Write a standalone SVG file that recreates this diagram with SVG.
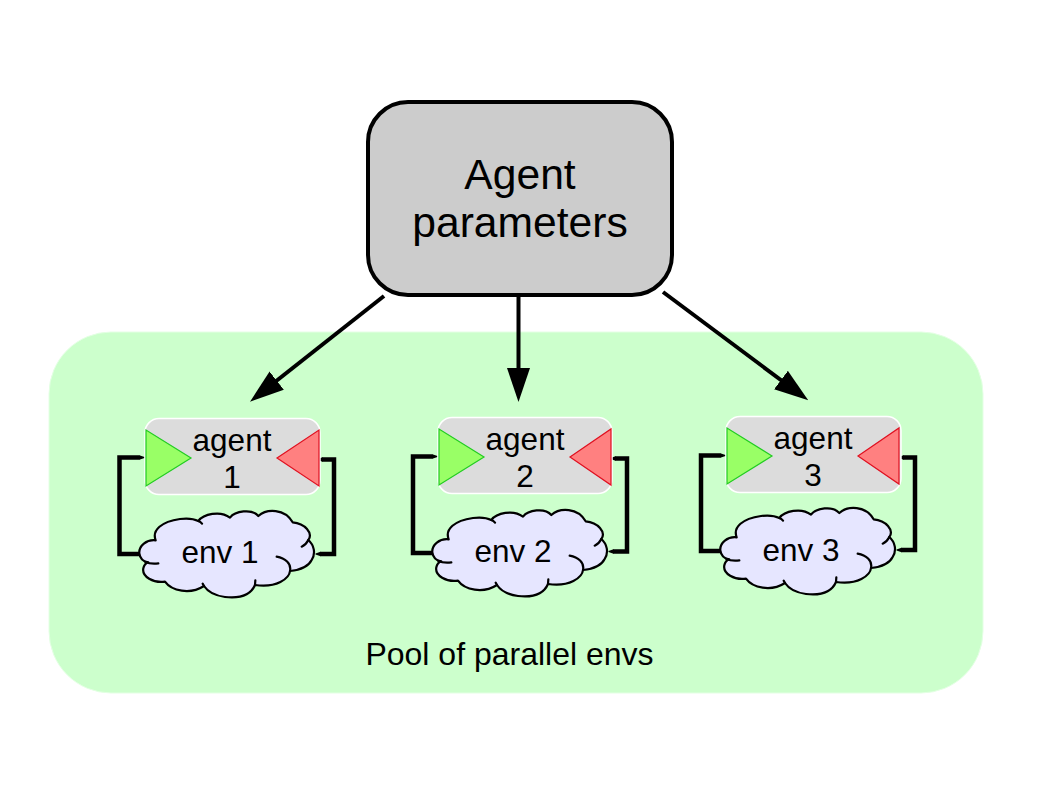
<svg xmlns="http://www.w3.org/2000/svg" width="1058" height="794" viewBox="0 0 1058 794">
<style>
text{font-family:"Liberation Sans",Arial,sans-serif;fill:#000;text-anchor:middle}
.s{font-size:31.5px}
.p{font-size:32px}
.b{font-size:42.6px}
.agent{fill:#dcdcdc;stroke:#fff;stroke-width:1.5}
.go{fill:#99ff66;stroke:#22cc22;stroke-width:1.2}
.stop{fill:#ff8080;stroke:#e01020;stroke-width:1.2}
.cloud{fill:#e6e6ff;stroke:#000;stroke-width:6.6;stroke-linejoin:round}
.tip{fill:none;stroke:#000;stroke-width:6.6;stroke-linecap:round}
.loop{fill:none;stroke:#000;stroke-width:4.500;stroke-linejoin:miter}
.arrow{fill:none;stroke:#000;stroke-width:4}
</style>
<defs>
<marker id="ah" markerUnits="userSpaceOnUse" markerWidth="36" markerHeight="24" refX="20" refY="12" orient="auto"><path d="M0,0.500L34,12L0,23.500Z" fill="#000"/></marker>
<marker id="nib" markerUnits="userSpaceOnUse" markerWidth="6" markerHeight="6" refX="0.500" refY="3" orient="auto-start-reverse"><path d="M0,0.700L5,2.600V3.400L0,5.300Z" fill="#000"/></marker>
<g id="cl" transform="translate(130 505) scale(.33333)">
<path class="cloud" d="M28,145C26,122 50,103 77,106C65,75 95,50 150,42C175,39 195,43 205,48C220,28 270,15 300,38C315,18 365,10 385,33C410,10 465,10 488,52C525,55 550,85 535,105C552,120 558,145 545,165C535,185 510,195 480,198C478,220 440,250 375,240C360,275 320,280 285,276C255,272 232,258 222,243C180,270 125,258 105,230C70,235 35,215 40,190C42,180 47,175 55,172C40,170 30,160 28,145Z"/>
<path class="tip" d="M85,175C70,177 55,175 45,170M205,48C210,50 213,52 216,56M535,105C530,115 522,122 515,125M440,155C465,160 485,175 480,198M375,240L376,226M222,243L218,236"/>
</g>
</defs>
<g id="pool"><rect x="49" y="332" width="934" height="361" rx="62" fill="#ccffcc" stroke="#e4ffe4" stroke-width="1"/><text class="p" x="509.500" y="665">Pool of parallel envs</text></g>
<g id="connectors">
<path class="arrow" marker-end="url(#ah)" d="M384,296L261,393"/>
<path class="arrow" marker-end="url(#ah)" d="M518.500,297L518.500,388"/>
<path class="arrow" marker-end="url(#ah)" d="M663,292L797,392"/>
<path class="loop" marker-end="url(#nib)" d="M141,554H119.500V457.500H140"/><path class="loop" marker-start="url(#nib)" marker-end="url(#nib)" d="M320,554H334V459.500H322"/>
<path class="loop" marker-end="url(#nib)" d="M434,553H413V456.500H433"/><path class="loop" marker-start="url(#nib)" marker-end="url(#nib)" d="M613,551.500H627V458.500H615"/>
<path class="loop" marker-end="url(#nib)" d="M722,551H701V455.500H721"/><path class="loop" marker-start="url(#nib)" marker-end="url(#nib)" d="M901,550H915V457.500H903"/>
</g>
<g id="parameters"><rect x="368" y="102" width="304" height="193" rx="40" fill="#cccccc" stroke="#000" stroke-width="4"/><text class="b" x="520" y="189">Agent</text><text class="b" x="520" y="237">parameters</text></g>
<g id="agent1"><rect class="agent" x="145" y="418.500" width="175" height="76" rx="14"/><path class="go" d="M146,430V486L191,458Z"/><path class="stop" d="M319,430V486L277,458Z"/><text class="s" x="232" y="451">agent</text><text class="s" x="232" y="487.500">1</text></g>
<g id="agent2"><rect class="agent" x="438" y="417.500" width="174" height="76" rx="14"/><path class="go" d="M439,429V485L484,457Z"/><path class="stop" d="M611,429V485L570,457Z"/><text class="s" x="525" y="450">agent</text><text class="s" x="525" y="486.500">2</text></g>
<g id="agent3"><rect class="agent" x="726" y="416.500" width="175" height="76" rx="14"/><path class="go" d="M727,428V484L772,456Z"/><path class="stop" d="M899,428V484L858,456Z"/><text class="s" x="813" y="449">agent</text><text class="s" x="813" y="485.500">3</text></g>
<g id="env1"><use href="#cl"/><text class="s" x="220" y="563">env 1</text></g>
<g id="env2"><use href="#cl" x="293" y="-1"/><text class="s" x="513" y="562">env 2</text></g>
<g id="env3"><use href="#cl" x="581" y="-3"/><text class="s" x="801" y="561">env 3</text></g>
</svg>
